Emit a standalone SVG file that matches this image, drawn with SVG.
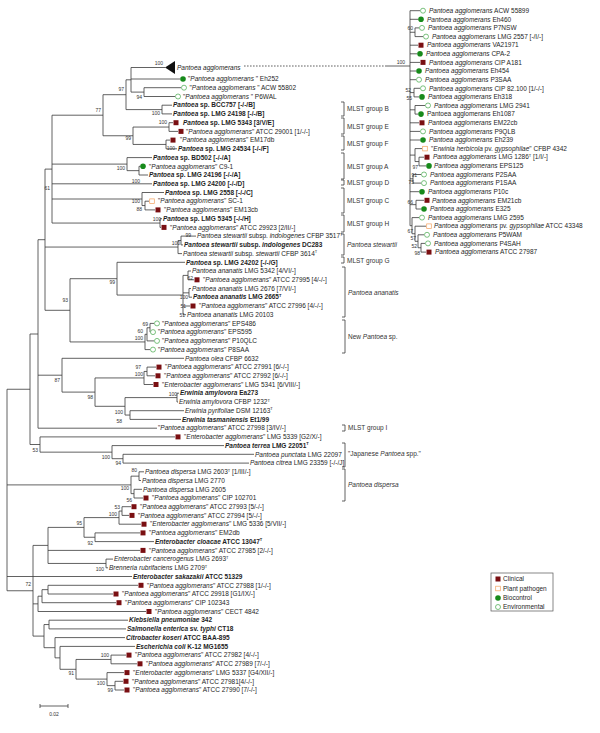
<svg xmlns="http://www.w3.org/2000/svg" width="600" height="733" viewBox="0 0 600 733">
<style>
.l{font-family:"Liberation Sans",Arial,sans-serif;font-size:6.5px;fill:#1e1e1e}
.i{font-style:italic}
.b{font-weight:bold}
.n{font-family:"Liberation Sans",Arial,sans-serif;font-size:5px;fill:#333;text-anchor:end}
.m{font-family:"Liberation Sans",Arial,sans-serif;font-size:6.5px;fill:#333}
.br{fill:none;stroke:#3a3a3a;stroke-width:0.8}
.bk{fill:none;stroke:#3a3a3a;stroke-width:0.8}
</style>
<defs>
<rect id="sq" x="-2.5" y="-2.5" width="5" height="5" fill="#7a0f12"/>
<rect id="os" x="-2.3" y="-2.3" width="4.6" height="4.6" fill="#fff" stroke="#f3a15e" stroke-width="0.7"/>
<circle id="fc" r="2.8" fill="#178a1b"/>
<circle id="oc" r="2.5" fill="#fff" stroke="#43a849" stroke-width="0.7"/>
</defs>
<rect width="600" height="733" fill="#fff"/>
<g id="connectors">
<path class="br" d="M144 87.7V96.5M144 87.7H181M144 96.5H175M131 67.5V92.1M131 67.5H165M131 79H180M131 92.1H144M162 105.2V113.9M162 105.2H172M162 113.9H172M126 79.8V109.6M126 79.8H131M126 109.6H162M169 122.7V131.4M169 122.7H173M169 131.4H178M166 140.1V148.8M166 140.1H170M166 148.8H177M133 127.05V144.45M133 127.05H169M133 144.45H166M103 94.7V135.75M103 94.7H126M103 135.75H133M139 166.3V175M139 166.3H140M139 175H148M127 157.6V170.65M127 157.6H152M127 170.65H139M145 201.2V209.9M145 201.2H149M145 209.9H155M142 192.5V205.55M142 192.5H164M142 205.55H145M160 218.7V227.4M160 218.7H162M160 227.4H161M52 115.2V223.05M52 115.2H103M52 164.1H127M52 183.8H152M52 199H142M52 223.05H160M181 236.1V244.9M181 236.1H196M181 244.9H183M178 240.5V253.6M178 240.5H181M178 253.6H182M188 271V279.8M188 271H191M188 279.8H194M189 288.5V297.2M189 288.5H191M189 297.2H192M183 275.4V314.7M183 275.4H188M183 292.85H189M183 306H190M183 314.7H186M117 262.3V295.05M117 262.3H185M117 295.05H183M150 323.4V332.1M150 323.4H154M150 332.1H150.3M147 327.75V340.9M147 327.75H150M147 340.9H154M145 334.3V349.6M145 334.3H147M145 349.6H150M70 278.7V341.95M70 278.7H117M70 341.95H145M45 169.1V310.3M45 169.1H52M45 247.05H178M45 310.3H70M147 367.1V375.8M147 367.1H156M147 375.8H155M144 371.45V384.5M144 371.45H147M144 384.5H153M177 393.2V402M177 393.2H179M177 402H178M130 410.7V419.4M130 410.7H184M130 419.4H181M125 397.6V415.05M125 397.6H177M125 415.05H130M95 377.95V406.3M95 377.95H144M95 406.3H125M62 358.3V392.1M62 358.3H184M62 392.1H95M38 239.7V428.2M38 239.7H45M38 375.2H62M38 428.2H157M123 454.3V463.1M123 454.3H254M123 463.1H249M112 445.6V458.7M112 445.6H224M112 458.7H123M40 436.9V452.15M40 436.9H175M40 452.15H112M30 334V444.5M30 334H38M30 444.5H40M139 471.8V480.5M139 471.8H144M139 480.5H141M134 489.3V498M134 489.3H142M134 498H143M131 476.15V493.65M131 476.15H139M131 493.65H134M122 506.7V515.4M122 506.7H131M122 515.4H129M119 511.05V524.2M119 511.05H122M119 524.2H141M95 532.9V541.6M95 532.9H140M95 541.6H154M84 517.6V537.25M84 517.6H119M84 537.25H95M106 559.1V567.8M106 559.1H113M106 567.8H108M48 527.4V563.45M48 527.4H84M48 550.4H140M48 563.45H106M48 585.3V594M48 585.3H138M48 594H113M42 589.65V602.7M42 589.65H48M42 602.7H116M38 596.2V611.5M38 596.2H42M38 611.5H146M49 620.2V628.9M49 620.2H128M49 628.9H126M111 655.1V663.8M111 655.1H126M111 663.8H137M115 681.3V690M115 681.3H123M115 690H124M107 672.6V685.65M107 672.6H124M107 685.65H115M76 659.45V679.1M76 659.45H111M76 679.1H107M60 646.4V669.3M60 646.4H135M60 669.3H76M55 637.6V657.85M55 637.6H125M55 657.85H60M44 624.55V647.7M44 624.55H49M44 647.7H55M33 545.4V636.1M33 545.4H48M33 603.85H38M33 636.1H44M7 389.25V590.75M7 389.25H30M7 484.9H131M7 576.5H132M7 590.75H33"/>
<path class="br" d="M415 27.9V36.6M415 27.9H419M415 36.6H423M414 88.3V96.9M414 88.3H420M414 96.9H419M415 105.5V114.1M415 105.5H425M415 114.1H418M419 157.2V165.9M419 157.2H424M419 165.9H426M415 148.6V161.55M415 148.6H422M415 161.55H419M413 174.5V183.1M413 174.5H421M413 183.1H421M416 200.3V209M416 200.3H424M416 209H421M421 243.4V252.1M421 243.4H425M421 252.1H426M418 234.8V247.75M418 234.8H424M418 247.75H421M415 226.2V241.3M415 226.2H426M415 241.3H418M412 217.6V233.75M412 217.6H419M412 233.75H415M410 10.7V225.7M410 10.7H420M410 19.3H418M410 32.25H415M410 45.2H418M410 53.8H417M410 62.4H420M410 71H416M410 79.7H416M410 92.6H414M410 109.8H415M410 122.8H419M410 131.4H420M410 140H420M410 155.1H415M410 178.8H413M410 191.7H419M410 204.65H416M410 225.7H412M385 66H410"/>
<path class="br" d="M244 66H385" stroke-dasharray="1.6,1.4"/>
<polygon points="165,67.5 175,61 175,74" fill="#111"/>
</g>
<g id="bootstrap">
<text class="n" x="163" y="65">100</text><text class="n" x="124" y="91">97</text><text class="n" x="142" y="99">94</text><text class="n" x="101" y="112">77</text><text class="n" x="160" y="115">100</text><text class="n" x="167" y="124">100</text><text class="n" x="131" y="140">99</text><text class="n" x="175" y="150">100</text><text class="n" x="50" y="190">61</text><text class="n" x="125" y="170">100</text><text class="n" x="140" y="183">100</text><text class="n" x="140" y="203">100</text><text class="n" x="142" y="211">88</text><text class="n" x="161" y="221">100</text><text class="n" x="191" y="237">99</text><text class="n" x="180" y="245">100</text><text class="n" x="115" y="284">99</text><text class="n" x="193" y="280">62</text><text class="n" x="188" y="299">100</text><text class="n" x="186" y="308">51</text><text class="n" x="185" y="317">51</text><text class="n" x="68" y="302">93</text><text class="n" x="148" y="326">69</text><text class="n" x="143" y="333">60</text><text class="n" x="143" y="340">100</text><text class="n" x="141" y="369">97</text><text class="n" x="143" y="376">100</text><text class="n" x="60" y="382">87</text><text class="n" x="93" y="399">98</text><text class="n" x="177" y="396">100</text><text class="n" x="123" y="414">100</text><text class="n" x="122" y="423">58</text><text class="n" x="38" y="452">53</text><text class="n" x="110" y="459">100</text><text class="n" x="121" y="465">94</text><text class="n" x="137" y="472">80</text><text class="n" x="129" y="490">100</text><text class="n" x="132" y="502">56</text><text class="n" x="120" y="509">53</text><text class="n" x="117" y="516">100</text><text class="n" x="82" y="525">95</text><text class="n" x="93" y="545">92</text><text class="n" x="104" y="571">100</text><text class="n" x="31" y="586">72</text><text class="n" x="109" y="657">100</text><text class="n" x="74" y="675">91</text><text class="n" x="105" y="685">100</text><text class="n" x="113" y="692">99</text>
<text class="n" x="413" y="30">60</text><text class="n" x="405" y="64">100</text><text class="n" x="411" y="92">52</text><text class="n" x="412" y="100">55</text><text class="n" x="418" y="169">97</text><text class="n" x="417" y="177">91</text><text class="n" x="414" y="184">75</text><text class="n" x="413" y="204">66</text><text class="n" x="413" y="233">67</text><text class="n" x="416" y="240">57</text><text class="n" x="417" y="248">52</text><text class="n" x="420" y="255">98</text>
</g>
<g id="main-leaves">
<g id="L0"><text class="l i" x="177" y="69.7">Pantoea agglomerans</text></g>
<g id="L1"><use href="#fc" x="183" y="79"/><text class="l" x="188" y="81.2">"<tspan class="i">Pantoea agglomerans </tspan>" Eh252</text></g>
<g id="L2"><use href="#oc" x="184" y="87.7"/><text class="l" x="189.5" y="89.9">"<tspan class="i">Pantoea agglomerans </tspan>" ACW 55802</text></g>
<g id="L3"><use href="#oc" x="178" y="96.5"/><text class="l" x="183" y="98.7">"<tspan class="i">Pantoea agglomerans </tspan>" P6WAL</text></g>
<g id="L4"><text class="l b" x="173" y="107.4"><tspan class="i">Pantoea</tspan> sp. BCC757 [-/-/B]</text></g>
<g id="L5"><text class="l b" x="173" y="116.1"><tspan class="i">Pantoea</tspan> sp. LMG 24198 [-/-/B]</text></g>
<g id="L6"><use href="#sq" x="176" y="122.7"/><text class="l b" x="183" y="124.9"><tspan class="i">Pantoea</tspan> sp. LMG 5343 [3/V/E]</text></g>
<g id="L7"><use href="#sq" x="181" y="131.4"/><text class="l" x="186" y="133.6">"<tspan class="i">Pantoea agglomerans</tspan>" ATCC 29001 [1/-/-]</text></g>
<g id="L8"><use href="#sq" x="173" y="140.1"/><text class="l" x="180" y="142.3">"<tspan class="i">Pantoea agglomerans</tspan>" EM17db</text></g>
<g id="L9"><text class="l b" x="178" y="151"><tspan class="i">Pantoea</tspan> sp. LMG 24534 [-/-/F]</text></g>
<g id="L10"><text class="l b" x="153" y="159.8"><tspan class="i">Pantoea</tspan> sp. BD502 [-/-/A]</text></g>
<g id="L11"><use href="#fc" x="143" y="166.3"/><text class="l" x="149" y="168.5">"<tspan class="i">Pantoea agglomerans</tspan>" C9-1</text></g>
<g id="L12"><text class="l b" x="149" y="177.2"><tspan class="i">Pantoea</tspan> sp. LMG 24196 [-/-/A]</text></g>
<g id="L13"><text class="l b" x="153" y="186"><tspan class="i">Pantoea</tspan> sp. LMG 24200 [-/-/D]</text></g>
<g id="L14"><text class="l b" x="165" y="194.7"><tspan class="i">Pantoea</tspan> sp. LMG 2558 [-/-/C]</text></g>
<g id="L15"><use href="#os" x="152" y="201.2"/><text class="l" x="158" y="203.4">"<tspan class="i">Pantoea agglomerans</tspan>" SC-1</text></g>
<g id="L16"><use href="#sq" x="158" y="209.9"/><text class="l" x="164" y="212.1">"<tspan class="i">Pantoea agglomerans</tspan>" EM13cb</text></g>
<g id="L17"><text class="l b" x="163" y="220.9"><tspan class="i">Pantoea</tspan> sp. LMG 5345 [-/-/H]</text></g>
<g id="L18"><use href="#sq" x="164" y="227.4"/><text class="l" x="170" y="229.6">"<tspan class="i">Pantoea agglomerans</tspan>" ATCC 29923 [2/II/-]</text></g>
<g id="L19"><text class="l" x="197" y="238.3"><tspan class="i">Pantoea stewartii</tspan> subsp. <tspan class="i">indologenes</tspan> CFBP 3517<tspan font-size="4" dy="-2.5">T</tspan></text></g>
<g id="L20"><text class="l b" x="184" y="247.1"><tspan class="i">Pantoea stewartii</tspan> subsp. <tspan class="i">indologenes</tspan> DC283</text></g>
<g id="L21"><text class="l" x="183" y="255.8"><tspan class="i">Pantoea stewartii</tspan> subsp. <tspan class="i">stewartii</tspan> CFBP 3614<tspan font-size="4" dy="-2.5">T</tspan></text></g>
<g id="L22"><text class="l b" x="186" y="264.5"><tspan class="i">Pantoea</tspan> sp. LMG 24202 [-/-/G]</text></g>
<g id="L23"><text class="l" x="192" y="273.2"><tspan class="i">Pantoea ananatis</tspan> LMG 5342 [4/VI/-]</text></g>
<g id="L24"><use href="#sq" x="197" y="279.8"/><text class="l" x="203" y="282">"<tspan class="i">Pantoea agglomerans</tspan>" ATCC 27995 [4/-/-]</text></g>
<g id="L25"><text class="l" x="192" y="290.7"><tspan class="i">Pantoea ananatis</tspan> LMG 2676 [7/VI/-]</text></g>
<g id="L26"><text class="l b" x="193" y="299.4"><tspan class="i">Pantoea ananatis</tspan> LMG 2665<tspan font-size="4" dy="-2.5">T</tspan></text></g>
<g id="L27"><use href="#sq" x="193" y="306"/><text class="l" x="199" y="308.2">"<tspan class="i">Pantoea agglomerans</tspan>" ATCC 27996 [4/-/-]</text></g>
<g id="L28"><text class="l" x="187" y="316.9"><tspan class="i">Pantoea ananatis</tspan> LMG 20103</text></g>
<g id="L29"><use href="#oc" x="157" y="323.4"/><text class="l" x="162" y="325.6">"<tspan class="i">Pantoea agglomerans</tspan>" EPS486</text></g>
<g id="L30"><use href="#oc" x="153" y="332.1"/><text class="l" x="158" y="334.3">"<tspan class="i">Pantoea agglomerans</tspan>" EPS595</text></g>
<g id="L31"><use href="#oc" x="157" y="340.9"/><text class="l" x="162" y="343.1">"<tspan class="i">Pantoea agglomerans</tspan>" P10QLC</text></g>
<g id="L32"><use href="#oc" x="153" y="349.6"/><text class="l" x="158" y="351.8">"<tspan class="i">Pantoea agglomerans</tspan>" P8SAA</text></g>
<g id="L33"><text class="l" x="185" y="360.5"><tspan class="i">Pantoea olea</tspan> CFBP 6632</text></g>
<g id="L34"><use href="#sq" x="159" y="367.1"/><text class="l" x="165" y="369.3">"<tspan class="i">Pantoea agglomerans</tspan>" ATCC 27991 [6/-/-]</text></g>
<g id="L35"><use href="#sq" x="158" y="375.8"/><text class="l" x="164" y="378">"<tspan class="i">Pantoea agglomerans</tspan>" ATCC 27992 [6/-/-]</text></g>
<g id="L36"><use href="#sq" x="156" y="384.5"/><text class="l" x="162" y="386.7">"<tspan class="i">Enterobacter agglomerans</tspan>" LMG 5341 [6/VIII/-]</text></g>
<g id="L37"><text class="l b" x="180" y="395.4"><tspan class="i">Erwinia amylovora</tspan> Ea273</text></g>
<g id="L38"><text class="l" x="179" y="404.2"><tspan class="i">Erwinia amylovora</tspan> CFBP 1232<tspan font-size="4" dy="-2.5">T</tspan></text></g>
<g id="L39"><text class="l" x="185" y="412.9"><tspan class="i">Erwinia pyrifoliae</tspan> DSM 12163<tspan font-size="4" dy="-2.5">T</tspan></text></g>
<g id="L40"><text class="l b" x="182" y="421.6"><tspan class="i">Erwinia tasmaniensis</tspan> Et1/99</text></g>
<g id="L41"><text class="l" x="158" y="430.4">"<tspan class="i">Pantoea agglomerans</tspan>" ATCC 27998 [3/IV/-]</text></g>
<g id="L42"><use href="#sq" x="178" y="436.9"/><text class="l" x="184" y="439.1">"<tspan class="i">Enterobacter agglomerans</tspan>" LMG 5339 [G2/X/-]</text></g>
<g id="L43"><text class="l b" x="225" y="447.8"><tspan class="i">Pantoea terrea</tspan> LMG 22051<tspan font-size="4" dy="-2.5">T</tspan></text></g>
<g id="L44"><text class="l" x="255" y="456.5"><tspan class="i">Pantoea punctata</tspan> LMG 22097</text></g>
<g id="L45"><text class="l" x="250" y="465.3"><tspan class="i">Pantoea citrea</tspan> LMG 23359 [-/-/J]</text></g>
<g id="L46"><text class="l" x="145" y="474"><tspan class="i">Pantoea dispersa</tspan> LMG 2603<tspan font-size="4" dy="-2.5">T</tspan><tspan dy="2.5"> [1/III/-]</tspan></text></g>
<g id="L47"><text class="l" x="142" y="482.7"><tspan class="i">Pantoea dispersa</tspan> LMG 2770</text></g>
<g id="L48"><text class="l" x="143" y="491.5"><tspan class="i">Pantoea dispersa</tspan> LMG 2605</text></g>
<g id="L49"><use href="#sq" x="146" y="498"/><text class="l" x="152" y="500.2">"<tspan class="i">Pantoea agglomerans</tspan>" CIP 102701</text></g>
<g id="L50"><use href="#sq" x="134" y="506.7"/><text class="l" x="140" y="508.9">"<tspan class="i">Pantoea agglomerans</tspan>" ATCC 27993 [5/-/-]</text></g>
<g id="L51"><use href="#sq" x="132" y="515.4"/><text class="l" x="138" y="517.6">"<tspan class="i">Pantoea agglomerans</tspan>" ATCC 27994 [5/-/-]</text></g>
<g id="L52"><use href="#sq" x="144" y="524.2"/><text class="l" x="150" y="526.4">"<tspan class="i">Enterobacter agglomerans</tspan>" LMG 5336 [5/VII/-]</text></g>
<g id="L53"><use href="#sq" x="143" y="532.9"/><text class="l" x="149" y="535.1">"<tspan class="i">Pantoea agglomerans</tspan>" EM2db</text></g>
<g id="L54"><text class="l b" x="155" y="543.8"><tspan class="i">Enterobacter cloacae</tspan> ATCC 13047<tspan font-size="4" dy="-2.5">T</tspan></text></g>
<g id="L55"><use href="#sq" x="143" y="550.4"/><text class="l" x="149" y="552.6">"<tspan class="i">Pantoea agglomerans</tspan>" ATCC 27985 [2/-/-]</text></g>
<g id="L56"><text class="l" x="114" y="561.3"><tspan class="i">Enterobacter cancerogenus</tspan> LMG 2693<tspan font-size="4" dy="-2.5">T</tspan></text></g>
<g id="L57"><text class="l" x="109" y="570"><tspan class="i">Brenneria rubrifaciens</tspan> LMG 2709<tspan font-size="4" dy="-2.5">T</tspan></text></g>
<g id="L58"><text class="l b" x="133" y="578.7"><tspan class="i">Enterobacter sakazakii</tspan> ATCC 51329</text></g>
<g id="L59"><use href="#sq" x="141" y="585.3"/><text class="l" x="147" y="587.5">"<tspan class="i">Pantoea agglomerans</tspan>" ATCC 27988 [1/-/-]</text></g>
<g id="L60"><use href="#sq" x="116" y="594"/><text class="l" x="122" y="596.2">"<tspan class="i">Pantoea agglomerans</tspan>" ATCC 29918 [G1/IX/-]</text></g>
<g id="L61"><use href="#sq" x="119" y="602.7"/><text class="l" x="125" y="604.9">"<tspan class="i">Pantoea agglomerans</tspan>" CIP 102343</text></g>
<g id="L62"><use href="#sq" x="149" y="611.5"/><text class="l" x="155" y="613.7">"<tspan class="i">Pantoea agglomerans</tspan>" CECT 4842</text></g>
<g id="L63"><text class="l b" x="129" y="622.4"><tspan class="i">Klebsiella pneumoniae</tspan> 342</text></g>
<g id="L64"><text class="l b" x="127" y="631.1"><tspan class="i">Salmonella enterica</tspan> sv. <tspan class="i">typhi</tspan> CT18</text></g>
<g id="L65"><text class="l b" x="126" y="639.8"><tspan class="i">Citrobacter koseri</tspan> ATCC BAA-895</text></g>
<g id="L66"><text class="l b" x="136" y="648.6"><tspan class="i">Escherichia coli</tspan> K-12 MG1655</text></g>
<g id="L67"><use href="#sq" x="129" y="655.1"/><text class="l" x="135" y="657.3">"<tspan class="i">Pantoea agglomerans</tspan>" ATCC 27982 [4/-/-]</text></g>
<g id="L68"><use href="#sq" x="140" y="663.8"/><text class="l" x="146" y="666">"<tspan class="i">Pantoea agglomerans</tspan>" ATCC 27989 [7/-/-]</text></g>
<g id="L69"><use href="#sq" x="127" y="672.6"/><text class="l" x="133" y="674.8">"<tspan class="i">Enterobacter agglomerans</tspan>" LMG 5337 [G4/XII/-]</text></g>
<g id="L70"><use href="#sq" x="126" y="681.3"/><text class="l" x="132" y="683.5">"<tspan class="i">Pantoea agglomerans</tspan>" ATCC 27981[4/-/-]</text></g>
<g id="L71"><use href="#sq" x="127" y="690"/><text class="l" x="133" y="692.2">"<tspan class="i">Pantoea agglomerans</tspan>" ATCC 27990 [7/-/-]</text></g>
</g>
<g id="clade-leaves">
<g id="R0"><use href="#oc" x="423" y="10.7"/><text class="l" x="429" y="12.9"><tspan class="i">Pantoea agglomerans</tspan> ACW 55899</text></g>
<g id="R1"><use href="#fc" x="421" y="19.3"/><text class="l" x="427" y="21.5"><tspan class="i">Pantoea agglomerans</tspan> Eh460</text></g>
<g id="R2"><use href="#oc" x="422" y="27.9"/><text class="l" x="428" y="30.1"><tspan class="i">Pantoea agglomerans</tspan> P7NSW</text></g>
<g id="R3"><use href="#oc" x="426" y="36.6"/><text class="l" x="432" y="38.8"><tspan class="i">Pantoea agglomerans</tspan> LMG 2557 [-/I/-]</text></g>
<g id="R4"><use href="#sq" x="421" y="45.2"/><text class="l" x="427" y="47.4"><tspan class="i">Pantoea agglomerans</tspan> VA21971</text></g>
<g id="R5"><use href="#fc" x="420" y="53.8"/><text class="l" x="426" y="56"><tspan class="i">Pantoea agglomerans</tspan> CPA-2</text></g>
<g id="R6"><use href="#sq" x="423" y="62.4"/><text class="l" x="429" y="64.6"><tspan class="i">Pantoea agglomerans</tspan> CIP A181</text></g>
<g id="R7"><use href="#fc" x="419" y="71"/><text class="l" x="425" y="73.2"><tspan class="i">Pantoea agglomerans</tspan> Eh454</text></g>
<g id="R8"><use href="#oc" x="419" y="79.7"/><text class="l" x="425" y="81.9"><tspan class="i">Pantoea agglomerans</tspan> P3SAA</text></g>
<g id="R9"><use href="#oc" x="423" y="88.3"/><text class="l" x="429" y="90.5"><tspan class="i">Pantoea agglomerans</tspan> CIP 82.100 [1/-/-]</text></g>
<g id="R10"><use href="#fc" x="422" y="96.9"/><text class="l" x="428" y="99.1"><tspan class="i">Pantoea agglomerans</tspan> Eh318</text></g>
<g id="R11"><use href="#oc" x="428" y="105.5"/><text class="l" x="434" y="107.7"><tspan class="i">Pantoea agglomerans</tspan> LMG 2941</text></g>
<g id="R12"><use href="#fc" x="421" y="114.1"/><text class="l" x="427" y="116.3">Pantoea agglomerans Eh1087</text></g>
<g id="R13"><use href="#sq" x="422" y="122.8"/><text class="l" x="428" y="125"><tspan class="i">Pantoea agglomerans</tspan> EM22cb</text></g>
<g id="R14"><use href="#oc" x="423" y="131.4"/><text class="l" x="429" y="133.6"><tspan class="i">Pantoea agglomerans</tspan> P9QLB</text></g>
<g id="R15"><use href="#fc" x="423" y="140"/><text class="l" x="429" y="142.2"><tspan class="i">Pantoea agglomerans</tspan> Eh239</text></g>
<g id="R16"><use href="#os" x="425" y="148.6"/><text class="l" x="431" y="150.8">"<tspan class="i">Erwinia herbicola</tspan> pv. <tspan class="i">gypsophilae</tspan>" CFBP 4342</text></g>
<g id="R17"><use href="#sq" x="427" y="157.2"/><text class="l" x="433" y="159.4"><tspan class="i">Pantoea agglomerans</tspan> LMG 1286<tspan font-size="4" dy="-2.5">T</tspan><tspan dy="2.5"> [1/I/-]</tspan></text></g>
<g id="R18"><use href="#fc" x="429" y="165.9"/><text class="l" x="434" y="168.1"><tspan class="i">Pantoea agglomerans</tspan> EPS125</text></g>
<g id="R19"><use href="#oc" x="424" y="174.5"/><text class="l" x="430" y="176.7"><tspan class="i">Pantoea agglomerans</tspan> P2SAA</text></g>
<g id="R20"><use href="#oc" x="424" y="183.1"/><text class="l" x="430" y="185.3"><tspan class="i">Pantoea agglomerans</tspan> P1SAA</text></g>
<g id="R21"><use href="#fc" x="422" y="191.7"/><text class="l" x="428" y="193.9"><tspan class="i">Pantoea agglomerans</tspan> P10c</text></g>
<g id="R22"><use href="#sq" x="427" y="200.3"/><text class="l" x="432" y="202.5"><tspan class="i">Pantoea agglomerans</tspan> EM21cb</text></g>
<g id="R23"><use href="#fc" x="424" y="209"/><text class="l" x="430" y="211.2"><tspan class="i">Pantoea agglomerans</tspan> E325</text></g>
<g id="R24"><use href="#oc" x="422" y="217.6"/><text class="l" x="428" y="219.8"><tspan class="i">Pantoea agglomerans</tspan> LMG 2595</text></g>
<g id="R25"><use href="#os" x="429" y="226.2"/><text class="l" x="434" y="228.4"><tspan class="i">Pantoea agglomerans</tspan> pv. <tspan class="i">gypsophilae</tspan> ATCC 43348</text></g>
<g id="R26"><use href="#oc" x="427" y="234.8"/><text class="l" x="433" y="237"><tspan class="i">Pantoea agglomerans</tspan> P5WAM</text></g>
<g id="R27"><use href="#oc" x="428" y="243.4"/><text class="l" x="434" y="245.6"><tspan class="i">Pantoea agglomerans</tspan> P4SAH</text></g>
<g id="R28"><use href="#sq" x="429" y="252.1"/><text class="l" x="435" y="254.3"><tspan class="i">Pantoea agglomerans</tspan> ATCC 27987</text></g>
</g>
<g id="brackets">
<path class="bk" d="M341 102H344V116H341M341 118H344V134H341M341 136H344V150H341M341 153H344V179H341M341 180H344V185H341M341 188H344V213H341M341 215H344V232H341M341 234H344V255H341M341 257H344V263H341M342 267H345V317H342M342 320H345V353H342M342 425H345V431H342M342 443H345V467H342M342 469H345V501H342"/>
<text class="m" x="347" y="111.2">MLST group B</text>
<text class="m" x="347" y="129.2">MLST group E</text>
<text class="m" x="347" y="145.5">MLST group F</text>
<text class="m" x="347" y="169">MLST group A</text>
<text class="m" x="347" y="184.5">MLST group D</text>
<text class="m" x="347" y="203">MLST group C</text>
<text class="m" x="347" y="225.5">MLST group H</text>
<text class="m i" x="347" y="247.2">Pantoea stewartii</text>
<text class="m" x="347" y="263">MLST group G</text>
<text class="m i" x="348" y="295">Pantoea ananatis</text>
<text class="m" x="348" y="339.2">New <tspan class="i">Pantoea</tspan> sp.</text>
<text class="m" x="348" y="430.2">MLST group I</text>
<text class="m" x="348" y="456.2">"Japanese <tspan class="i">Pantoea</tspan> spp."</text>
<text class="m i" x="348" y="487.2">Pantoea dispersa</text>
</g>
<g id="legend">
<rect x="491" y="573" width="62" height="38" fill="#fff" stroke="#555" stroke-width="0.7"/>
<use href="#sq" x="498" y="579"/><text class="l" x="503" y="581.2">Clinical</text>
<use href="#os" x="498" y="588.5"/><text class="l" x="503" y="590.7">Plant pathogen</text>
<use href="#fc" x="498" y="598"/><text class="l" x="503" y="600.2">Biocontrol</text>
<use href="#oc" x="498" y="607"/><text class="l" x="503" y="609.2">Environmental</text>
</g>
<g id="scale">
<path class="br" d="M40 706H68M40 704V708M68 704V708"/>
<text class="n" x="54" y="716" style="text-anchor:middle">0.02</text>
</g>
</svg>
